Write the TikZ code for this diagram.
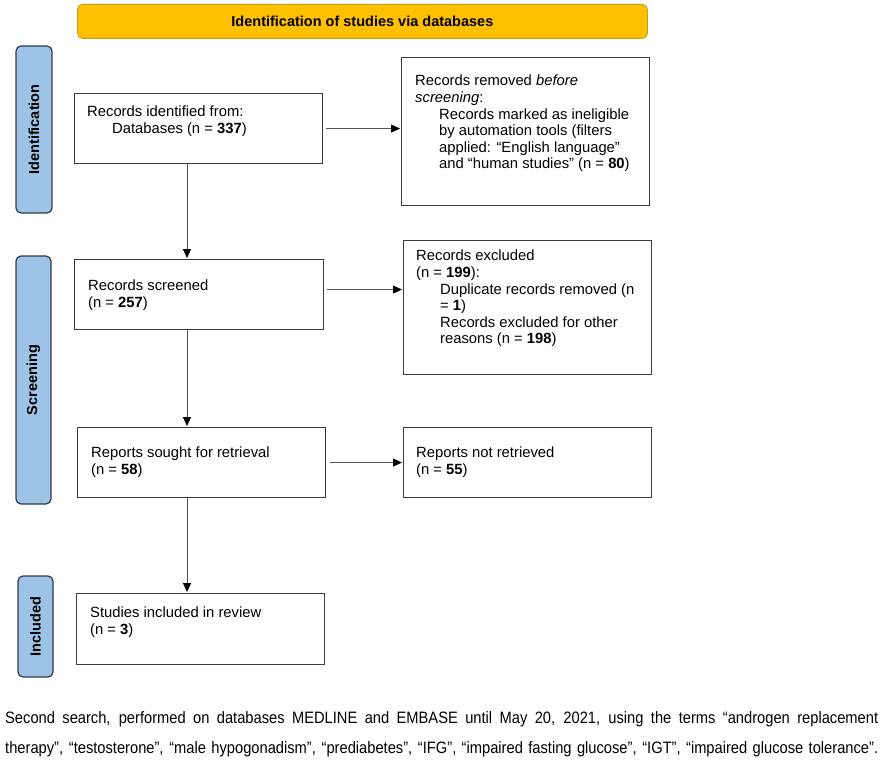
\documentclass[tikz,border=0pt]{standalone}
\usepackage{fontspec}
\setmainfont{Liberation Sans}
\newfontfamily\narrowfont[FakeStretch=0.89]{Liberation Sans}
\usetikzlibrary{arrows.meta}
\definecolor{bannerfill}{HTML}{FFC000}
\definecolor{bannerdraw}{HTML}{C99A1E}
\definecolor{sidefill}{HTML}{9DC3E6}
\definecolor{sidedraw}{HTML}{2F3B4A}
\definecolor{boxgray}{HTML}{3C3C3C}
\definecolor{arrgray}{HTML}{555555}
\tikzset{
  boxfont/.style={font=\fontsize{14.8}{16.6}\selectfont},
  flowbox/.style={draw=boxgray, line width=1.1pt, anchor=north west, inner sep=0pt, fill=white},
  boxtext/.style={boxfont, anchor=north west, inner sep=0pt, align=left, text=black},
  sidebox/.style={draw=sidedraw, fill=sidefill, line width=1.2pt, rounded corners=5pt, inner sep=0pt, rotate=90, font=\fontsize{14.5}{16}\selectfont\bfseries},
  banner/.style={draw=bannerdraw, fill=bannerfill, line width=0.8pt, rounded corners=5pt, anchor=north west, inner sep=0pt},
  arr/.style={draw=arrgray, line width=0.9pt, -{Triangle[length=9pt,width=8pt,color=black]}, shorten >=1pt}
}
\begin{document}
\begin{tikzpicture}[x=1pt,y=-1pt]
\useasboundingbox (0,0) rectangle (884,765);
% banner
\node[banner, minimum width=570pt, minimum height=34pt] (ban) at (77,4) {};
\node[font=\fontsize{14.5}{16}\selectfont\bfseries, inner sep=0pt] (bantext) at (ban.center) {Identification of studies via databases};
% side labels
\node[sidebox, minimum width=167pt, minimum height=36pt] (sid1) at (34,129.5) {Identification};
\node[sidebox, minimum width=248pt, minimum height=35pt] (sid2) at (33.5,380) {Screening};
\node[sidebox, minimum width=101pt, minimum height=35pt] (sid3) at (35.5,626.5) {Included};
% boxes
\node[flowbox, minimum width=248pt, minimum height=148pt] (r1) at (401,57) {};
\node[flowbox, minimum width=248pt, minimum height=70pt] (b1) at (74,93) {};
\node[flowbox, minimum width=249pt, minimum height=70pt] (b2) at (74,259) {};
\node[flowbox, minimum width=248pt, minimum height=134pt] (r2) at (403,240) {};
\node[flowbox, minimum width=248pt, minimum height=70pt] (b3) at (77,427) {};
\node[flowbox, minimum width=248pt, minimum height=70pt] (r3) at (403,427) {};
\node[flowbox, minimum width=248pt, minimum height=71pt] (b4) at (76,593) {};
% texts
\node[boxtext] (t1) at (87,106) {Records identified from:\\\hspace*{25pt}Databases (n = \textbf{337})};
\node[boxtext] (tr1) at (415,75) {Records removed \textit{before}\\\textit{screening}:\\
\hspace*{24pt}Records marked as ineligible\\\hspace*{24pt}by automation tools (filters\\
\hspace*{24pt}applied: “English language”\\\hspace*{24pt}and “human studies” (n = \textbf{80})};
\node[boxtext] (t2) at (88,280) {Records screened\\(n = \textbf{257})};
\node[boxtext] (tr2) at (416,250) {Records excluded\\(n = \textbf{199}):\\
\hspace*{24pt}Duplicate records removed (n\\\hspace*{24pt}= \textbf{1})\\
\hspace*{24pt}Records excluded for other\\\hspace*{24pt}reasons (n = \textbf{198})};
\node[boxtext] (t3) at (91,447) {Reports sought for retrieval\\(n = \textbf{58})};
\node[boxtext] (tr3) at (416,447) {Reports not retrieved\\(n = \textbf{55})};
\node[boxtext] (t4) at (90,607) {Studies included in review\\(n = \textbf{3})};
% connectors
\coordinate (vx) at (187,0);
\draw[arr] ([xshift=3pt]b1.east) -- (b1.east -| r1.west);
\draw[arr] ([xshift=3pt,yshift=5pt]b2.east) -- ([yshift=5pt]b2.east -| r2.west);
\draw[arr] ([xshift=4pt]b3.east) -- (b3.east -| r3.west);
\draw[arr] (b1.south -| vx) -- (b2.north -| vx);
\draw[arr] (b2.south -| vx) -- (b3.north -| vx);
\draw[arr] (b3.south -| vx) -- (b4.north -| vx);
% footer
\node[anchor=base west, inner sep=0pt] (f1) at (5,723) {\narrowfont\fontsize{16.5}{18}\selectfont\makebox[873pt][s]{Second search, performed on databases MEDLINE and EMBASE until May 20, 2021, using the terms “androgen replacement}};
\node[anchor=base west, inner sep=0pt] (f2) at (5,753) {\narrowfont\fontsize{16.5}{18}\selectfont\makebox[873pt][s]{therapy”, “testosterone”, “male hypogonadism”, “prediabetes”, “IFG”, “impaired fasting glucose”, “IGT”, “impaired glucose tolerance”.}};
\end{tikzpicture}
\end{document}
